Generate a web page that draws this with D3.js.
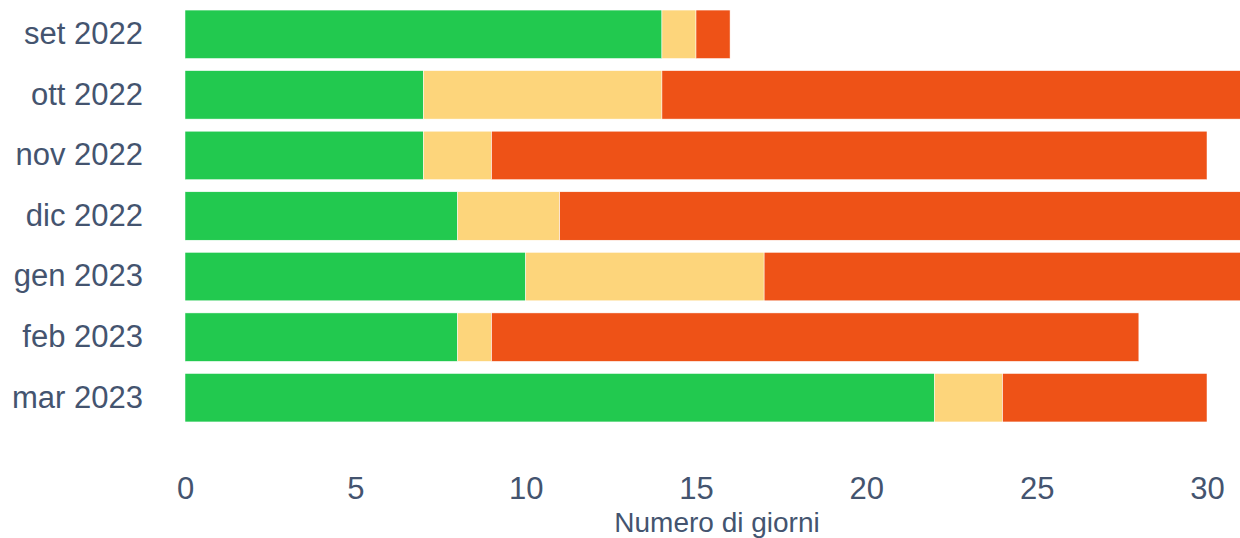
<!DOCTYPE html>
<html lang="it">
<head>
    <meta charset="UTF-8">
    <title>Numero di giorni</title>
    <script src="https://cdn.jsdelivr.net/npm/d3@7"></script>
    <style>
        body { margin: 0; background: #fff; }
        text { font-family: "Liberation Sans", Arial, sans-serif; }
    </style>
</head>
<body>
<div id="chart"></div>
<script>
    // dati
    const mesi = ["set 2022", "ott 2022", "nov 2022", "dic 2022", "gen 2023", "feb 2023", "mar 2023"];
    const verde = [14, 7, 7, 8, 10, 8, 22];
    const giallo = [1, 7, 2, 3, 7, 1, 2];
    const rosso = [1, 17, 21, 20, 14, 19, 6];
    const serie = ["verde", "giallo", "rosso"];
    const colori = ["#22c94f", "#fdd57b", "#ee5217"];
    const xTicks = [0, 5, 10, 15, 20, 25, 30];
    const xTitolo = "Numero di giorni";

    const W = 1240, H = 538;

    const svg = d3.select("#chart")
        .append("svg")
        .attr("width", W)
        .attr("height", H);

    const x = d3.scaleLinear().domain([0, 31]).range([185, 185 + 31 * (1207 - 185) / 30]);
    const y = d3.scaleBand().domain(mesi).range([4, 428]).paddingInner(0.2).paddingOuter(0.1);

    const righe = mesi.map((m, i) => ({mese: m, verde: verde[i], giallo: giallo[i], rosso: rosso[i]}));
    const stack = d3.stack().keys(serie)(righe);

    svg.append("clipPath").attr("id", "clip")
        .append("rect").attr("x", 185).attr("y", 0).attr("width", W - 185).attr("height", 440);

    const g = svg.append("g").attr("clip-path", "url(#clip)");

    g.selectAll("g.serie")
        .data(stack)
        .join("g")
        .attr("class", "serie")
        .attr("fill", (d, i) => colori[i])
        .selectAll("rect")
        .data(d => d)
        .join("rect")
        .attr("x", d => x(d[0]))
        .attr("width", d => x(d[1]) - x(d[0]))
        .attr("y", d => y(d.data.mese))
        .attr("height", y.bandwidth())
        .attr("stroke", "#fff")
        .attr("stroke-width", 0.5);

    // etichette asse y
    const yAxis = svg.append("g")
        .attr("transform", "translate(143,0)")
        .call(d3.axisLeft(y).tickSize(0).tickPadding(0));
    yAxis.select(".domain").remove();
    yAxis.selectAll("text")
        .attr("font-size", 31)
        .attr("font-family", "Liberation Sans, Arial, sans-serif")
        .attr("fill", "#44546f");

    // etichette asse x
    const xAxis = svg.append("g")
        .attr("transform", "translate(0,477)")
        .call(d3.axisBottom(x).tickValues(xTicks).tickSize(0).tickPadding(0));
    xAxis.select(".domain").remove();
    xAxis.selectAll("text")
        .attr("font-size", 31)
        .attr("font-family", "Liberation Sans, Arial, sans-serif")
        .attr("fill", "#44546f")
        .attr("dy", "0.72em")
        .attr("y", 0);

    svg.append("text")
        .attr("x", 717)
        .attr("y", 532)
        .attr("text-anchor", "middle")
        .attr("font-size", 28)
        .attr("fill", "#44546f")
        .text(xTitolo);
</script>
</body>
</html>
